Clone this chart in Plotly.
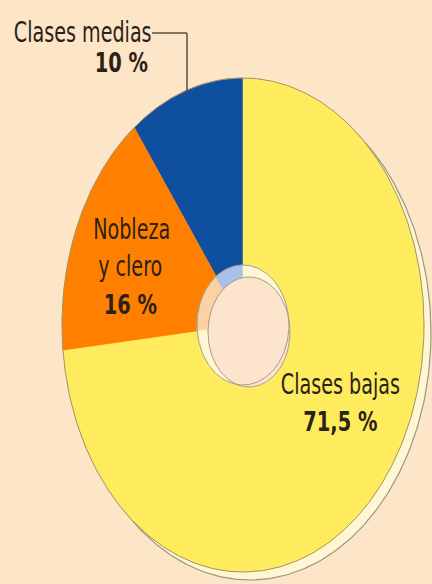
import json
import numpy as np
import plotly.graph_objects as go

# ---- data ----
labels = ["Clases medias", "Nobleza y clero", "Clases bajas"]
values = [10, 16, 71.5]
value_labels = ["10 %", "16 %", "71,5 %"]
colors = ["#0F4FA0", "#FF8000", "#FFEC5E"]
wall_colors = ["#A9C1E8", "#FBD2A4", "#FFF7D2"]

# ---- layout constants (pixel-like axis units) ----
W, H = 432, 584
BG = "#FDE5C8"
CX, CY = 243, 325          # donut centre
RX, RY = 181, 247          # outer radii (oval)
HRX, HRY = 46, 60          # hole radii
FLOOR_DX, FLOOR_DY, FRX, FRY = 6, 7, 41, 55
RIM_DX, RIM_DY = 7, 8
START = 90.0               # degrees, counter-clockwise

def arc(cx, cy, rx, ry, a0, a1, n=200):
    t = np.radians(np.linspace(a0, a1, n))
    return cx + rx * np.cos(t), cy - ry * np.sin(t)

total = sum(values)
angles = [START]
for v in values:
    angles.append(angles[-1] + 360.0 * v / total)

fig = go.Figure()

# rim (3D side)
x, y = arc(CX + RIM_DX, CY + RIM_DY, RX, RY, 0, 360, 400)
fig.add_trace(go.Scatter(x=x, y=y, fill="toself", fillcolor="#FFF7D2",
                         line=dict(color="#9C9588", width=1.2), mode="lines",
                         hoverinfo="skip", showlegend=False))

# face slices
for i, lab in enumerate(labels):
    ax, ay = arc(CX, CY, RX, RY, angles[i], angles[i + 1], 300)
    xs = np.concatenate([[CX], ax, [CX]])
    ys = np.concatenate([[CY], ay, [CY]])
    fig.add_trace(go.Scatter(x=xs, y=ys, fill="toself", fillcolor=colors[i],
                             line=dict(color=colors[i], width=0.5), mode="lines",
                             name=lab, hoverinfo="skip", showlegend=False))

# face outline
x, y = arc(CX, CY, RX, RY, 0, 360, 400)
fig.add_trace(go.Scatter(x=x, y=y, mode="lines",
                         line=dict(color="#A09465", width=1),
                         hoverinfo="skip", showlegend=False))

# hole inner walls
for i, lab in enumerate(labels):
    ax, ay = arc(CX, CY, HRX, HRY, angles[i], angles[i + 1], 120)
    xs = np.concatenate([[CX], ax, [CX]])
    ys = np.concatenate([[CY], ay, [CY]])
    fig.add_trace(go.Scatter(x=xs, y=ys, fill="toself", fillcolor=wall_colors[i],
                             line=dict(color=wall_colors[i], width=0.5), mode="lines",
                             hoverinfo="skip", showlegend=False))

# hole floor
x, y = arc(CX + FLOOR_DX, CY + FLOOR_DY, FRX, FRY, 0, 360, 200)
fig.add_trace(go.Scatter(x=x, y=y, fill="toself", fillcolor="#FDE4CC",
                         line=dict(color="#A49C8C", width=1), mode="lines",
                         hoverinfo="skip", showlegend=False))
# hole outline
x, y = arc(CX, CY, HRX, HRY, 0, 360, 200)
fig.add_trace(go.Scatter(x=x, y=y, mode="lines",
                         line=dict(color="#A49C8C", width=1),
                         hoverinfo="skip", showlegend=False))

FONT = "DejaVu Sans Condensed, Liberation Sans Narrow, sans-serif"
TXT = "#2A2216"
scales = []

def note(text, x, y, size=28, bold=False, scale=0.76):
    t = f"<b>{text}</b>" if bold else text
    fig.add_annotation(x=x, y=y, text=t, showarrow=False, xanchor="center",
                       yanchor="middle", font=dict(family=FONT, size=size, color=TXT))
    scales.append(scale)

note(labels[0], 82, 32)
note(value_labels[0], 121, 62, size=27, bold=True, scale=0.8)
note("Nobleza", 131, 229)
note("y clero", 130, 266)
note(value_labels[1], 130, 304, size=27, bold=True, scale=0.8)
note(labels[2], 340, 384)
note(value_labels[2], 340, 421, size=27, bold=True, scale=0.8)

# leader line for "Clases medias"
fig.add_shape(type="line", x0=152, y0=33, x1=187, y1=33,
              line=dict(color="#5A4C3C", width=1.5))
fig.add_shape(type="line", x0=187, y0=33, x1=187, y1=93,
              line=dict(color="#5A4C3C", width=1.5))

fig.update_layout(
    width=W, height=H, margin=dict(l=0, r=0, t=0, b=0),
    paper_bgcolor=BG, plot_bgcolor=BG, showlegend=False,
    xaxis=dict(range=[0, W], visible=False, fixedrange=True),
    yaxis=dict(range=[H, 0], visible=False, fixedrange=True),
)

post = """
document.body.style.margin = '0';
document.body.style.background = '%s';
var gd = document.getElementById('{plot_id}');
var sc = %s;
function squeeze() {
  var ts = gd.querySelectorAll('.annotation-text');
  ts.forEach(function(t, i) {
    t.style.transformBox = 'fill-box';
    t.style.transformOrigin = 'center';
    t.style.transform = 'scaleX(' + (sc[i] || 1) + ')';
  });
}
squeeze();
if (gd.on) { gd.on('plotly_afterplot', squeeze); }
setTimeout(squeeze, 50);
""" % (BG, json.dumps(scales))

fig.write_html("out.html", post_script=post, config={"staticPlot": True})
